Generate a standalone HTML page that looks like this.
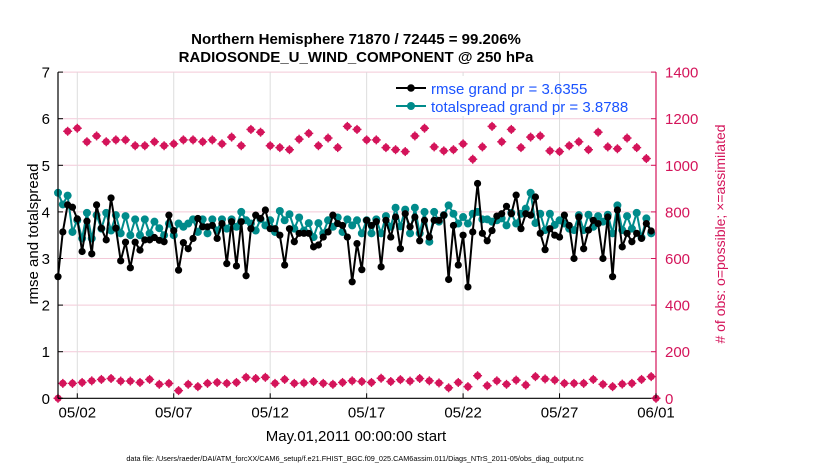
<!DOCTYPE html>
<html><head><meta charset="utf-8"><style>
html,body{margin:0;padding:0;background:#fff;}
svg{display:block;font-family:"Liberation Sans",Arial,sans-serif;}
</style></head><body>
<svg id="chart" width="830" height="470" viewBox="0 0 830 470" xmlns="http://www.w3.org/2000/svg">
<text x="356" y="44" text-anchor="middle" font-size="15" font-weight="bold">Northern Hemisphere 71870 / 72445 = 99.206%</text>
<text x="356" y="62" text-anchor="middle" font-size="15" font-weight="bold">RADIOSONDE_U_WIND_COMPONENT @ 250 hPa</text>
<g id="grid"></g>
<g id="series"></g>
<g id="axes"></g>
<text transform="translate(38,234) rotate(-90)" text-anchor="middle" font-size="15">rmse and totalspread</text>
<text transform="translate(725,234) rotate(-90)" text-anchor="middle" font-size="14" fill="#d4145a"># of obs: o=possible; ×=assimilated</text>
<text x="356" y="441" text-anchor="middle" font-size="15">May.01,2011 00:00:00 start</text>
<text x="355" y="461" text-anchor="middle" font-size="7.3">data file: /Users/raeder/DAI/ATM_forcXX/CAM6_setup/f.e21.FHIST_BGC.f09_025.CAM6assim.011/Diags_NTrS_2011-05/obs_diag_output.nc</text>
<g>
<rect x="390" y="76" width="150" height="40" fill="#fff"/>
<line x1="396" y1="88" x2="426" y2="88" stroke="#000" stroke-width="2"/>
<circle cx="411" cy="88" r="3.8" fill="#000"/>
<text x="431" y="94" font-size="15" fill="#1a53ff">rmse grand pr = 3.6355</text>
<line x1="396" y1="106" x2="426" y2="106" stroke="#008b8b" stroke-width="2"/>
<circle cx="411" cy="106" r="4" fill="#008b8b"/>
<text x="431" y="112" font-size="15" fill="#1a53ff">totalspread grand pr = 3.8788</text>
</g>
</svg>
<script>
const rmse = [2.61,3.57,4.15,4.1,3.85,3.15,3.8,3.1,4.15,3.65,3.4,4.3,3.65,2.95,3.35,2.8,3.35,3.18,3.4,3.4,3.45,
3.39,3.36,3.93,3.6,2.75,3.34,3.21,3.43,3.86,3.68,3.68,3.71,3.43,3.75,2.89,3.79,2.84,3.79,2.63,3.64,3.93,
3.86,4.04,3.64,3.64,3.5,2.86,3.64,3.36,3.54,3.54,3.54,3.25,3.29,3.46,3.57,3.93,3.75,3.71,3.46,2.5,3.32,
2.76,3.82,3.71,3.79,2.82,3.82,3.46,3.89,3.21,3.96,3.68,3.89,3.38,3.82,3.46,3.82,3.82,3.93,2.55,3.71,
2.86,3.5,2.39,3.57,4.61,3.54,3.38,3.6,3.91,3.96,4.12,3.96,4.36,3.64,3.96,3.93,4.32,3.54,3.19,3.64,3.5,
3.46,3.93,3.71,3.0,3.89,3.21,3.61,3.82,3.75,3.0,3.89,2.61,4.04,3.25,3.54,3.36,3.54,3.43,3.75,3.59];
const spread = [4.41,4.16,4.35,3.57,3.82,3.43,3.98,3.43,3.93,3.64,3.98,3.6,3.93,3.54,3.91,3.5,3.84,3.5,3.84,3.54,3.79,
3.65,3.5,3.75,3.5,3.75,3.68,3.75,3.84,3.57,3.84,3.54,3.84,3.6,3.84,3.64,3.84,3.68,4.0,3.82,3.75,3.6,
3.84,3.71,3.82,3.57,4.02,3.82,3.95,3.64,3.88,3.6,3.76,3.46,3.76,3.54,3.82,3.68,3.88,3.57,3.84,3.71,3.82,
3.54,3.82,3.54,3.84,3.54,3.91,3.68,4.09,3.69,4.05,3.54,4.09,3.54,4.0,3.36,4.0,3.79,3.93,4.14,3.96,
3.75,3.89,3.75,3.96,4.0,3.84,3.84,3.79,3.82,3.86,3.71,3.98,3.75,3.96,4.07,4.41,3.76,3.96,3.61,3.96,3.72,
3.82,3.75,3.64,3.61,3.93,3.61,3.94,3.68,3.91,3.79,3.94,3.54,4.14,3.61,3.91,3.64,3.98,3.45,3.86,3.54];
const possible = [1146,1159,1101,1126,1101,1109,1109,1084,1084,1101,1084,1092,1109,1109,1101,1109,1092,1121,1084,1154,1142,1084,1076,1067,1112,1137,1084,1117,1076,1167,1154,1109,1109,1076,1067,1059,1126,1159,1079,1062,1067,1092,1026,1079,1167,1101,1154,1076,1121,1126,1062,1059,1084,1101,1067,1142,1079,1071,1117,1076,1029];
const assimilated = [0,64,64,68,75,81,85,74,74,68,81,60,64,33,60,50,64,68,64,68,90,85,90,64,81,64,
66,72,64,60,68,75,72,68,86,72,80,74,
85,75,66,45,68,50,97,54,75,60,78,57,93,83,78,64,64,64,81,60,50,61,64,81,93,0];
const xTickLabels = ["05/02","05/07","05/12","05/17","05/22","05/27","06/01"];
const xTickDays = [1,6,11,16,21,26,31];
const yLeftTicks = [0,1,2,3,4,5,6,7];
const yRightTicks = [0,200,400,600,800,1000,1200,1400];

const NS="http://www.w3.org/2000/svg";
const X0=58, X1=656, YB=398.3, YT=72.1;
const xS = t => X0 + t*(X1-X0)/31;
const yL = v => YB - v*(YB-YT)/7;
const yR = c => YB - c*(YB-YT)/1400;
const RED="#d4145a", TEAL="#008b8b";
function mk(tag, attrs, parent){const e=document.createElementNS(NS,tag);for(const k in attrs)e.setAttribute(k,attrs[k]);parent.appendChild(e);return e;}
const grid=document.getElementById('grid'), ser=document.getElementById('series'), ax=document.getElementById('axes');

yLeftTicks.forEach(v=>{ if(v>0){const l=mk('line',{x1:X0,x2:X1,y1:yL(v),y2:yL(v),stroke:'#f3c9d8','stroke-width':1},grid);

}});
xTickDays.forEach(d=>{ if(d<31){const l=mk('line',{x1:xS(d),x2:xS(d),y1:YT,y2:YB,stroke:'#dddddd','stroke-width':1},grid);

}});

function drawLine(vals,times,color,r,name){
  const pts=vals.map((v,i)=>xS(times[i]).toFixed(1)+','+yL(v).toFixed(1)).join(' ');
  const pl=mk('polyline',{points:pts,fill:'none',stroke:color,'stroke-width':2,'stroke-linejoin':'round'},ser);
  
  
  vals.forEach((v,i)=>{const c=mk('circle',{cx:xS(times[i]),cy:yL(v),r:r,fill:color},ser);
    
    });
}
const tLine = rmse.map((v,i)=> i===0?0:0.25*i);
function drawObs(vals,times,name){
  vals.forEach((c,i)=>{const x=xS(times[i]), y=yR(c);
    const g=mk('g',{},ser);
    
    
    mk('circle',{cx:x,cy:y,r:3.6,fill:RED},g);
    mk('line',{x1:x-4.5,x2:x+4.5,y1:y,y2:y,stroke:RED,'stroke-width':1.4},g);
    mk('line',{x1:x,x2:x,y1:y-4.5,y2:y+4.5,stroke:RED,'stroke-width':1.4},g);
  });
}
const tPoss = possible.map((v,i)=>0.5+0.5*i);
const tAssim = assimilated.map((v,i)=> i===0?0:(i===assimilated.length-1?31:0.25+0.5*(i-1)));
drawObs(possible,tPoss,'possible-obs');
drawObs(assimilated,tAssim,'assimilated-obs');
drawLine(spread,tLine,TEAL,4,'totalspread');
drawLine(rmse,tLine,'#000',3.6,'rmse');

let a=mk('line',{x1:X0,x2:X0,y1:YT,y2:YB,stroke:'#000','stroke-width':1.2},ax);


a=mk('line',{x1:X1,x2:X1,y1:YT,y2:YB,stroke:RED,'stroke-width':1.2},ax);


a=mk('line',{x1:X0,x2:X1,y1:YB,y2:YB,stroke:'#000','stroke-width':1.2},ax);


yLeftTicks.forEach(v=>{const y=yL(v);
  mk('line',{x1:X0,x2:X0+5,y1:y,y2:y,stroke:'#000'},ax);
  const t=mk('text',{x:X0-8,y:y+5.5,'text-anchor':'end','font-size':15},ax); t.textContent=v;
  
  });
yRightTicks.forEach(c=>{const y=yR(c);
  mk('line',{x1:X1-5,x2:X1,y1:y,y2:y,stroke:RED},ax);
  const t=mk('text',{x:X1+9,y:y+5.5,'font-size':15,fill:RED},ax); t.textContent=c;
  
  });
xTickDays.forEach((d,i)=>{const x=xS(d);
  mk('line',{x1:x,x2:x,y1:YB-5,y2:YB,stroke:'#000'},ax);
  const t=mk('text',{x:x,y:YB+19,'text-anchor':'middle','font-size':15},ax); t.textContent=xTickLabels[i];
  
  });
</script>
</body></html>
